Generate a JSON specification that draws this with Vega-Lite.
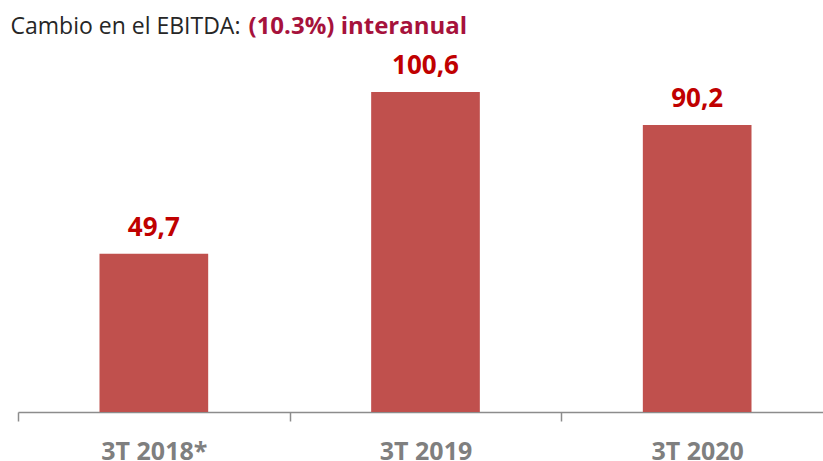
{
  "$schema": "https://vega.github.io/schema/vega-lite/v6.json",
  "autosize": "none",
  "width": 805,
  "height": 350,
  "padding": {"left": 18, "top": 62, "right": 0, "bottom": 49},
  "background": "white",
  "config": {
    "view": {"stroke": null},
    "locale": {"number": {"decimal": ",", "thousands": ".", "grouping": [3], "currency": ["", " €"]}}
  },
  "data": {
    "values": [
      {"periodo": "3T 2018*", "ebitda": 49.7},
      {"periodo": "3T 2019", "ebitda": 100.6},
      {"periodo": "3T 2020", "ebitda": 90.2}
    ]
  },
  "encoding": {
    "x": {
      "field": "periodo",
      "type": "nominal",
      "sort": null,
      "scale": {"range": [0, 815], "paddingInner": 0, "paddingOuter": 0},
      "axis": {
        "title": null,
        "labelAngle": 0,
        "tickBand": "extent",
        "domainColor": "#8c8c8c",
        "domainWidth": 1.5,
        "tickColor": "#8c8c8c",
        "tickWidth": 1.5,
        "tickSize": 9,
        "labelPadding": 18,
        "labelFont": "Open Sans",
        "labelFontSize": 25,
        "labelFontWeight": "bold",
        "labelColor": "#7f7f7f"
      }
    }
  },
  "layer": [
    {
      "mark": {"type": "bar", "color": "#c0504d", "width": {"band": 0.4}},
      "encoding": {
        "y": {
          "field": "ebitda",
          "type": "quantitative",
          "scale": {"domain": [0, 110], "nice": false},
          "axis": {
            "orient": "left",
            "title": "Cambio en el EBITDA:",
            "titleAngle": 0,
            "titleX": -8,
            "titleY": -29,
            "titleAlign": "left",
            "titleBaseline": "alphabetic",
            "titleFont": "Open Sans",
            "titleFontSize": 23,
            "titleFontWeight": "normal",
            "titleColor": "#262626",
            "domain": false,
            "ticks": false,
            "labels": false,
            "grid": false
          }
        }
      }
    },
    {
      "mark": {
        "type": "text",
        "baseline": "alphabetic",
        "dy": -18,
        "font": "Open Sans",
        "fontSize": 26,
        "fontWeight": "bold",
        "color": "#c00000"
      },
      "encoding": {
        "y": {
          "field": "ebitda",
          "type": "quantitative",
          "scale": {"domain": [0, 110], "nice": false},
          "axis": {
            "orient": "right",
            "title": "(10.3%) interanual",
            "titleAngle": 0,
            "titleX": -575,
            "titleY": -29,
            "titleAlign": "left",
            "titleBaseline": "alphabetic",
            "titleFont": "Open Sans",
            "titleFontSize": 24,
            "titleFontWeight": "bold",
            "titleColor": "#a6123c",
            "domain": false,
            "ticks": false,
            "labels": false,
            "grid": false
          }
        },
        "text": {"field": "ebitda", "type": "quantitative", "format": ".1f"}
      }
    }
  ],
  "resolve": {"scale": {"y": "independent"}, "axis": {"y": "independent"}}
}
